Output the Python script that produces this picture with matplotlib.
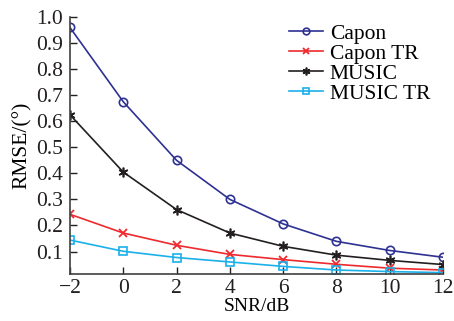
import matplotlib
matplotlib.use("Agg")
import matplotlib.pyplot as plt

snr = [-2, 0, 2, 4, 6, 8, 10, 12]
capon = [0.960, 0.675, 0.450, 0.300, 0.206, 0.139, 0.104, 0.078]
capon_tr = [0.243, 0.171, 0.124, 0.089, 0.069, 0.051, 0.036, 0.029]
music = [0.625, 0.405, 0.261, 0.171, 0.120, 0.086, 0.066, 0.050]
music_tr = [0.144, 0.101, 0.077, 0.060, 0.043, 0.029, 0.023, 0.019]
labels = ["Capon", "Capon TR", "MUSIC", "MUSIC TR"]
xticks = [-2, 0, 2, 4, 6, 8, 10, 12]
xticklabels = ["\u22122", "0", "2", "4", "6", "8", "10", "12"]
yticks = [0.1, 0.2, 0.3, 0.4, 0.5, 0.6, 0.7, 0.8, 0.9, 1.0]

plt.rcParams['font.family'] = ['Liberation Serif', 'DejaVu Serif']

fs = 15.5
fig = plt.figure(figsize=(4.54, 3.21), dpi=100)
ax = fig.add_axes([0.154, 0.145, 0.822, 0.802])

ax.plot(snr, capon, color='#2e3192', marker='o', ms=6, mfc='none', mew=1.2, lw=1.2, label=labels[0])
ax.plot(snr, capon_tr, color='#ee2a2e', marker='x', ms=6, mew=1.3, lw=1.2, label=labels[1])
ax.plot(snr, music, color='#231f20', marker=(6, 2, 0), ms=7, mew=1.2, lw=1.2, label=labels[2])
ax.plot(snr, music_tr, color='#1ab0ea', marker='s', ms=5.5, mfc='none', mew=1.2, lw=1.2, label=labels[3])

ax.set_xlim(-2, 12)
ax.set_ylim(0.012, 1.0)
ax.set_xticks(xticks)
ax.set_xticklabels(xticklabels)
ax.set_yticks(yticks)
ax.set_yticklabels([f"{v:.1f}" for v in yticks])
ax.tick_params(direction='in', labelsize=fs, length=5, width=1, colors='#231f20', pad=5)
ax.tick_params(axis='x', pad=3)
for s in ['top', 'right']:
    ax.spines[s].set_visible(False)
for s in ['left', 'bottom']:
    ax.spines[s].set_color('#404040')
    ax.spines[s].set_linewidth(1.2)

ax.set_ylabel("RMSE/(\u00b0)", fontsize=fs, labelpad=3)
ax.set_xlabel("SNR/dB", fontsize=14, labelpad=0)

ax.legend(loc='upper right', bbox_to_anchor=(1.0, 1.025), frameon=False, fontsize=fs,
          handlelength=1.6, handletextpad=0.3, labelspacing=0.0, borderaxespad=0.2,
          markerscale=0.8)

fig.savefig("out.png", dpi=100)
